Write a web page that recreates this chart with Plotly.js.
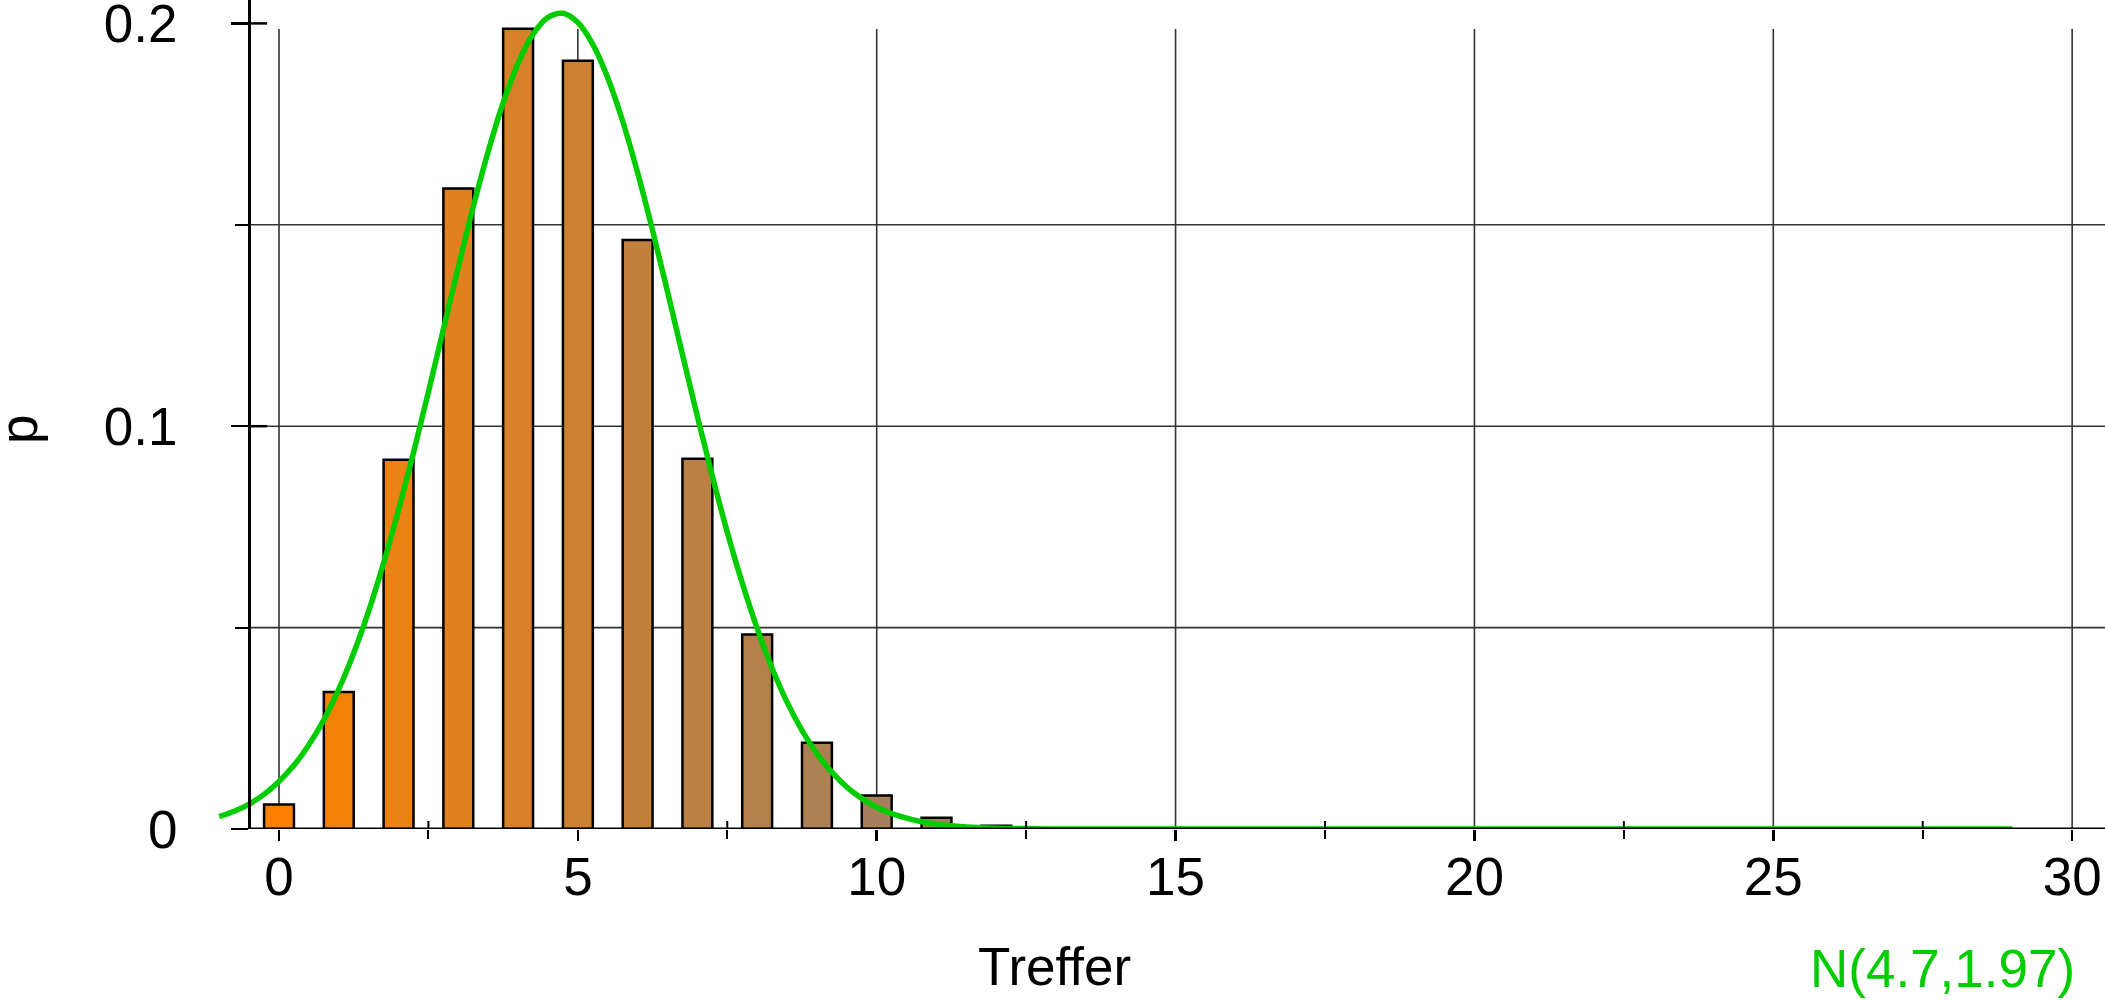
<!DOCTYPE html>
<html>
<head>
<meta charset="utf-8">
<script src="https://cdn.plot.ly/plotly-3.0.1.min.js"></script>
<style>
  html, body { margin: 0; padding: 0; background: #ffffff; }
  #chart { width: 2105px; height: 1001px; }
</style>
</head>
<body>
<div id="chart"></div>
<script>
// ---- data ----
const hits = [0, 1, 2, 3, 4, 5, 6, 7, 8, 9, 10, 11, 12, 13];
const probs = [0.0061, 0.034, 0.0917, 0.159, 0.1987, 0.1907, 0.1462, 0.0919, 0.0483, 0.0214, 0.0083, 0.0028, 0.0008, 0.0002];

const curveX = [-1, -0.75, -0.5, -0.25, 0, 0.25, 0.5, 0.75, 1, 1.25, 1.5, 1.75, 2, 2.25, 2.5, 2.75, 3, 3.25, 3.5, 3.75, 4, 4.25, 4.5, 4.75, 5, 5.25, 5.5, 5.75, 6, 6.25, 6.5, 6.75, 7, 7.25, 7.5, 7.75, 8, 8.25, 8.5, 8.75, 9, 9.25, 9.5, 9.75, 10, 10.25, 10.5, 10.75, 11, 11.5, 12, 12.5, 13, 29];
const curveY = [0.0031, 0.0044, 0.0062, 0.0086, 0.0118, 0.0158, 0.0209, 0.0271, 0.0347, 0.0437, 0.0541, 0.066, 0.0792, 0.0934, 0.1085, 0.1241, 0.1395, 0.1545, 0.1682, 0.1803, 0.1901, 0.1973, 0.2015, 0.2025, 0.2002, 0.1948, 0.1865, 0.1757, 0.1629, 0.1486, 0.1334, 0.1178, 0.1024, 0.0876, 0.0737, 0.0611, 0.0498, 0.0399, 0.0315, 0.0245, 0.0187, 0.0141, 0.0104, 0.0076, 0.0054, 0.0038, 0.0027, 0.0018, 0.0012, 0.0005, 0.0002, 0.0001, 0, 0];

const xTickVals = [0, 5, 10, 15, 20, 25, 30];
const xTickText = ['0', '5', '10', '15', '20', '25', '30'];
const xMinorVals = [2.5, 7.5, 12.5, 17.5, 22.5, 27.5];
const yTickVals = [0, 0.1, 0.2];
const yTickText = ['0', '0.1', '0.2'];
const yMinorVals = [0.05, 0.15];
const yGridVals = [0.05, 0.1, 0.15];

const xLabel = 'Treffer';
const yLabel = 'p';
const curveLabel = 'N(4.7,1.97)';

// ---- styling ----
const barColors = ['#FF8000', '#F58208', '#EB8212', '#E0811D', '#D68127', '#CC8032', '#C3803A', '#BB8043', '#B3804B', '#AB8053', '#A5805A', '#9F8060', '#998066', '#93806C'];
const FONT = '"Liberation Sans", Arial, Helvetica, sans-serif';
const FS = 53;
const W = 2105, H = 1001, ML = 200, MB = 172;
const PW = W - ML, PH = H - MB;
const xRange = [-1.3217, 30.5496];
const yRange = [0, 0.20581];
const yAxisX = -0.5;
const yAxisPos = (yAxisX - xRange[0]) / (xRange[1] - xRange[0]);
const pxX = (xRange[1] - xRange[0]) / PW;   // data units per px (x)
const pxY = (yRange[1] - yRange[0]) / PH;   // data units per px (y)
const GRID = {color: '#333333', width: 1.6};

const shapes = [];
xTickVals.forEach(v => shapes.push({type: 'line', layer: 'below', xref: 'x', yref: 'y',
  x0: v, x1: v, y0: 0, y1: yRange[1] - 29 * pxY, line: GRID}));
yGridVals.forEach(v => shapes.push({type: 'line', layer: 'below', xref: 'x', yref: 'y',
  x0: yAxisX, x1: xRange[1], y0: v, y1: v, line: GRID}));
shapes.push({type: 'line', layer: 'above', xref: 'x', yref: 'y', x0: yAxisX, x1: xRange[1], y0: 0, y1: 0,
  line: {color: '#000000', width: 3}});
yTickVals.slice(1).forEach(v => shapes.push({type: 'line', layer: 'above', xref: 'x', yref: 'y',
  x0: yAxisX, x1: yAxisX + 18 * pxX, y0: v, y1: v, line: {color: '#000000', width: 2.5}}));
xMinorVals.forEach(v => shapes.push({type: 'line', layer: 'above', xref: 'x', yref: 'y',
  x0: v, x1: v, y0: 0, y1: 8 * pxY, line: {color: '#000000', width: 2}}));

const traces = [
  {
    type: 'bar', x: hits, y: probs, width: 0.5,
    marker: {color: barColors, line: {color: '#000000', width: 2.5}},
    hoverinfo: 'x+y', showlegend: false
  },
  {
    type: 'scatter', mode: 'lines', x: curveX, y: curveY,
    line: {color: '#00CC00', width: 5.5, shape: 'spline', smoothing: 1},
    hoverinfo: 'skip', showlegend: false
  }
];

const annFont = c => ({family: FONT, size: FS, color: c});
const layout = {
  width: W, height: H,
  margin: {l: ML, r: 0, t: 0, b: MB, pad: 0},
  paper_bgcolor: '#ffffff', plot_bgcolor: '#ffffff',
  font: {family: FONT, size: FS, color: '#000000'},
  showlegend: false,
  xaxis: {
    range: xRange, autorange: false, automargin: false,
    showgrid: false, zeroline: false, showline: false,
    tickmode: 'array', tickvals: xTickVals, ticktext: xTickText,
    ticks: 'outside', ticklen: 11, tickwidth: 2.5, tickcolor: '#000000',
    minor: {tickmode: 'array', tickvals: xMinorVals, ticks: 'outside', ticklen: 9, tickwidth: 2, tickcolor: '#000000', showgrid: false},
    tickfont: {family: FONT, size: FS, color: '#000000'},
    ticklabelstandoff: -10,
    ticklabeloverflow: 'allow'
  },
  yaxis: {
    range: yRange, autorange: false, automargin: false,
    anchor: 'free', position: yAxisPos, side: 'left',
    showgrid: false, zeroline: false, showline: true, linecolor: '#000000', linewidth: 2.5,
    tickmode: 'array', tickvals: yTickVals, ticktext: yTickText,
    ticks: 'outside', ticklen: 17, tickwidth: 2.5, tickcolor: '#000000',
    minor: {tickmode: 'array', tickvals: yMinorVals, ticks: 'outside', ticklen: 13, tickwidth: 2, tickcolor: '#000000', showgrid: false},
    tickfont: {family: FONT, size: FS, color: '#000000'},
    ticklabelstandoff: 43,
    ticklabeloverflow: 'allow'
  },
  shapes: shapes,
  annotations: [
    {text: xLabel, xref: 'paper', yref: 'paper', x: (1054 - ML) / PW, y: (PH - 966) / PH,
     xanchor: 'center', yanchor: 'middle', showarrow: false, font: annFont('#000000')},
    {text: curveLabel, xref: 'paper', yref: 'paper', x: (1942 - ML) / PW, y: (PH - 968) / PH,
     xanchor: 'center', yanchor: 'middle', showarrow: false, font: annFont('#00CC00')},
    {text: yLabel, xref: 'paper', yref: 'paper', x: (18 - ML) / PW, y: (PH - 430) / PH,
     xanchor: 'center', yanchor: 'middle', textangle: -90, showarrow: false, font: annFont('#000000')}
  ]
};

Plotly.newPlot('chart', traces, layout, {displayModeBar: false, staticPlot: true});
</script>
</body>
</html>
